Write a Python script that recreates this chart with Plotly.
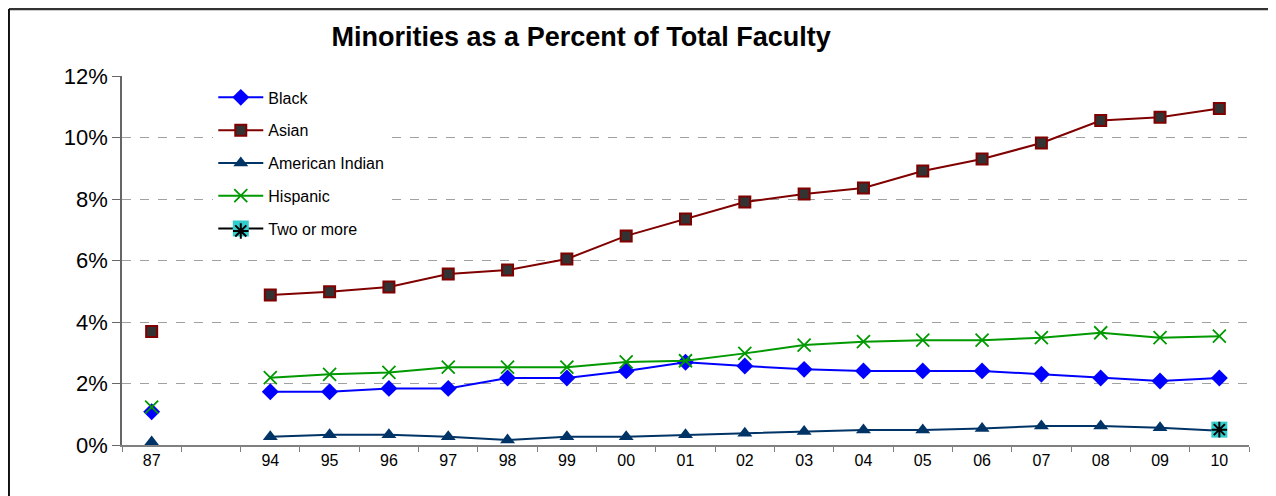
import plotly.graph_objects as go

# Fiscal years (blank slot between 87 and 94)
years = ["87", " ", "94", "95", "96", "97", "98", "99", "00", "01", "02",
         "03", "04", "05", "06", "07", "08", "09", "10"]

black = [0.0108, None, 0.0173, 0.0173, 0.0184, 0.0184, 0.0218, 0.0218, 0.0241,
         0.0269, 0.0257, 0.0246, 0.0241, 0.0241, 0.0241, 0.0230, 0.0218, 0.0208, 0.0218]
asian = [0.0369, None, 0.0488, 0.0498, 0.0514, 0.0556, 0.0569, 0.0605, 0.0680,
         0.0735, 0.0790, 0.0816, 0.0836, 0.0891, 0.0930, 0.0982, 0.1055, 0.1066, 0.1094]
american_indian = [0.0010, None, 0.0027, 0.0033, 0.0033, 0.0027, 0.0016, 0.0027, 0.0027,
                   0.0033, 0.0038, 0.0044, 0.0049, 0.0049, 0.0054, 0.0062, 0.0062, 0.0056, 0.0046]
hispanic = [0.0123, None, 0.0219, 0.0230, 0.0236, 0.0253, 0.0253, 0.0253, 0.0270,
            0.0274, 0.0298, 0.0325, 0.0336, 0.0341, 0.0341, 0.0349, 0.0365, 0.0349, 0.0354]
two_or_more = [None] * 18 + [0.0050]

FONT = "Liberation Sans, Arial, sans-serif"
LEG_X = 0.081
LEG_Y = 0.988

fig = go.Figure()

series = [
    ("Black", black, "#0000FF", dict(symbol="diamond", size=13, color="#0000FF")),
    ("Asian", asian, "#800000", dict(symbol="square", size=11, color="#333333",
                                      line=dict(color="#800000", width=2))),
    ("American Indian", american_indian, "#003366",
     dict(symbol="triangle-up", size=13, color="#003366")),
    ("Hispanic", hispanic, "#009900",
     dict(symbol="x-thin-open", size=13, color="#009900", line=dict(color="#009900", width=1.8))),
]

for name, vals, color, marker in series:
    fig.add_trace(go.Scatter(
        x=years, y=vals, name=name, mode="lines+markers", legendgroup=name,
        line=dict(color=color, width=2), marker=marker, connectgaps=False,
        cliponaxis=False,
    ))

# "Two or more": cyan box (with black line in the legend) ...
fig.add_trace(go.Scatter(
    x=years, y=two_or_more, name="Two or more", mode="lines+markers",
    legendgroup="two", line=dict(color="#000000", width=2), cliponaxis=False,
    marker=dict(symbol="square", size=16, color="#33CCCC", line=dict(width=0)),
))
# ... with a black asterisk on top (second legend overlays the same row)
fig.add_trace(go.Scatter(
    x=years, y=two_or_more, name=" ", mode="markers", legend="legend2",
    cliponaxis=False,
    marker=dict(symbol="asterisk-open", size=13, color="#000000",
                line=dict(color="#000000", width=2)),
))

legend_style = dict(font=dict(size=16, family=FONT),
                    tracegroupgap=9, traceorder="grouped", itemwidth=45,
                    xanchor="left", yanchor="top")

fig.update_layout(
    width=1268, height=488,
    margin=dict(l=114, r=27, t=68, b=51),
    paper_bgcolor="white", plot_bgcolor="white",
    font=dict(family=FONT, color="#000000"),
    title=dict(text="<b>Minorities as a Percent of Total Faculty</b>",
               x=0.452, xanchor="center", y=0.9406, yanchor="middle",
               font=dict(size=27, family=FONT, color="#000000")),
    legend=dict(x=LEG_X, y=LEG_Y, bgcolor="white", **legend_style),
    legend2=dict(x=LEG_X, y=LEG_Y - 4 * 33.4 / 369, bgcolor="rgba(0,0,0,0)",
                 **legend_style),
    showlegend=True,
)

fig.update_xaxes(
    type="category", categoryorder="array", categoryarray=years,
    range=[-0.5, len(years) - 0.5],
    showgrid=False, showline=True, linecolor="#808080", linewidth=1.5,
    ticks="outside", tickson="boundaries", ticklen=5, tickcolor="#808080",
    tickfont=dict(size=16, family=FONT), zeroline=False,
)
fig.update_yaxes(
    range=[0, 0.12], dtick=0.02, tickformat=".0%",
    showgrid=True, gridcolor="#A0A0A0", griddash="dash", gridwidth=1,
    showline=True, linecolor="#666666", linewidth=1.5,
    ticks="outside", ticklen=8, tickcolor="#666666",
    tickfont=dict(size=22, family=FONT), zeroline=False,
)

# chart frame: dark top and left edges, light right edge
fig.add_shape(type="line", xref="paper", yref="paper",
              x0=-0.1003, x1=1.03, y0=1.1816, y1=1.1816,
              line=dict(color="#333333", width=2.5))
fig.add_shape(type="line", xref="paper", yref="paper",
              x0=-0.1003, x1=-0.1003, y0=-0.14, y1=1.1816,
              line=dict(color="#111111", width=2))
fig.add_shape(type="line", xref="paper", yref="paper",
              x0=1.0231, x1=1.0231, y0=-0.14, y1=1.1816,
              line=dict(color="#D8D8D8", width=2))

fig.write_html("out.html")
